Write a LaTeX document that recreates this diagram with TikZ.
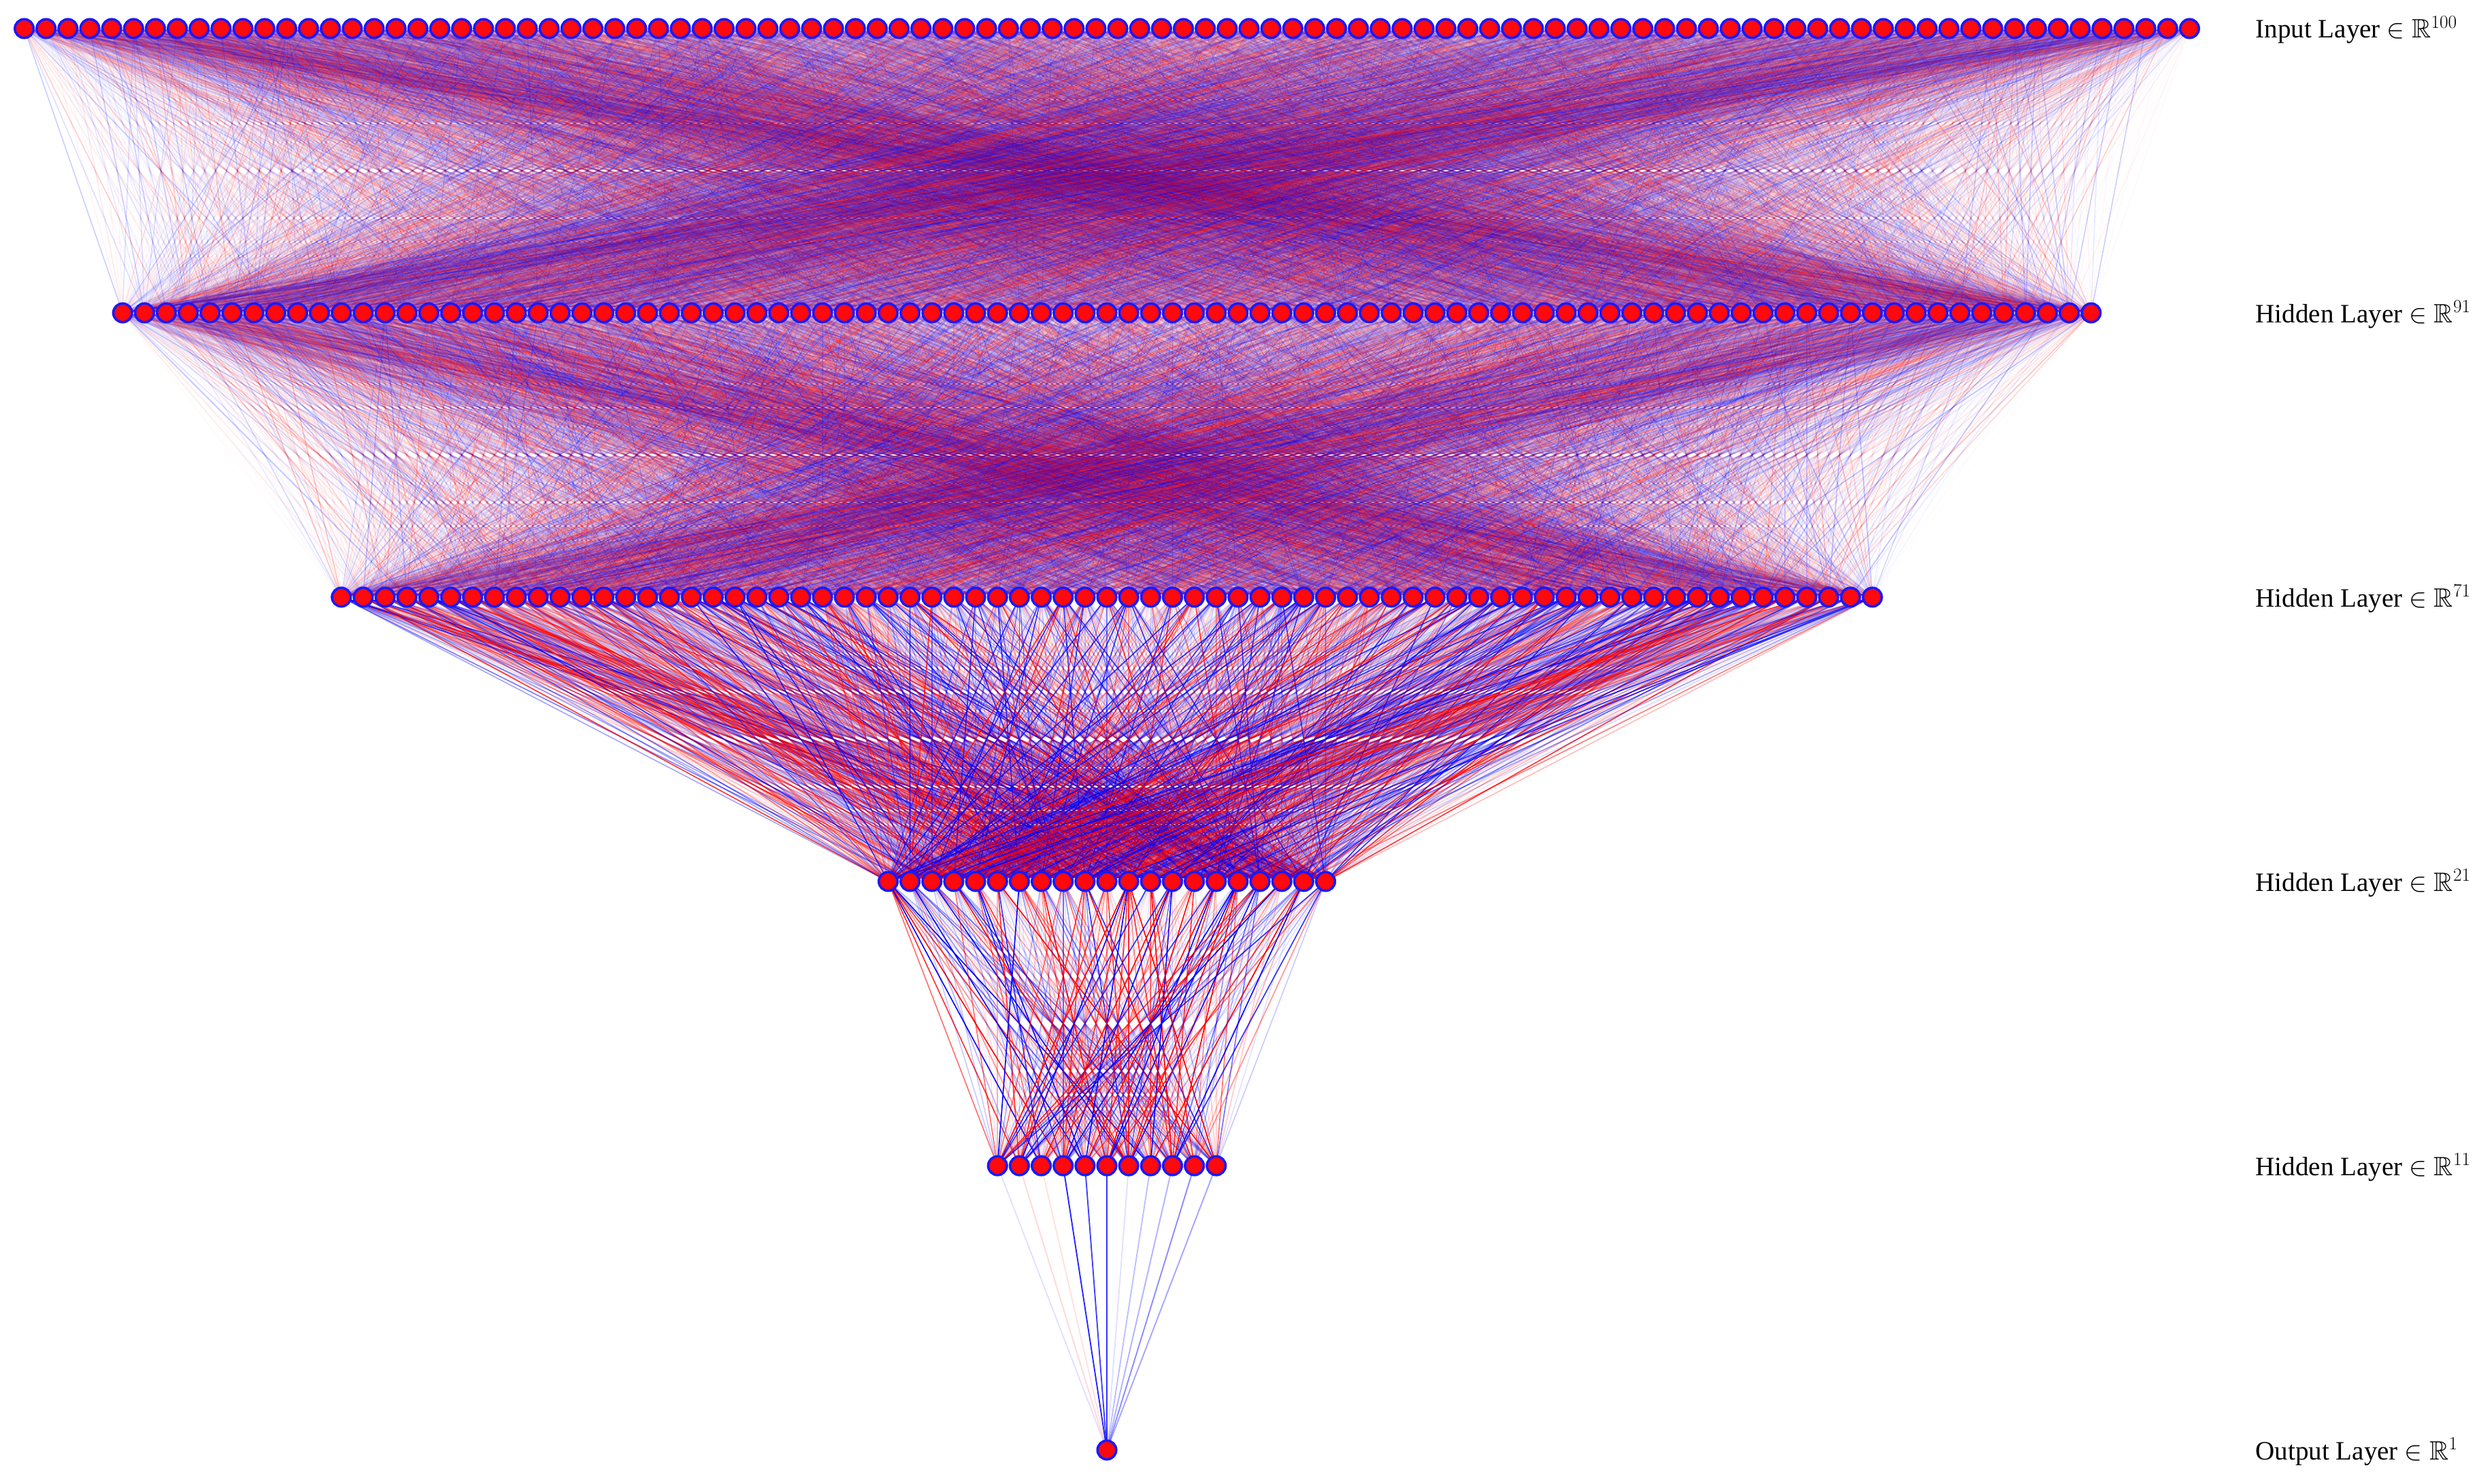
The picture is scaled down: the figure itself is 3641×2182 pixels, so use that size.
\documentclass[tikz,border=0pt]{standalone}
\usepackage{fix-cm}
\usepackage{amssymb}
\usepackage{fontspec}
\setmainfont{Liberation Serif}
\usetikzlibrary{backgrounds}
\definecolor{nred}{RGB}{255,8,14}
\definecolor{nblue}{RGB}{25,25,255}
\definecolor{ered}{RGB}{255,0,0}
\definecolor{eblue}{RGB}{0,0,255}

% ---------- pseudo-random edge weights ----------
\newcount\ejj
\newcount\lcg
\global\lcg=4242
\newif\ifanyedge
\def\nextrand{\global\lcg=\numexpr\lcg*171\relax
  \global\lcg=\numexpr\lcg-30269*((\lcg-15134)/30269)\relax}
\expandafter\def\csname eo0\endcsname{0.02}
\expandafter\def\csname eo1\endcsname{0.04}
\expandafter\def\csname eo2\endcsname{0.07}
\expandafter\def\csname eo3\endcsname{0.10}
\expandafter\def\csname eo4\endcsname{0.14}
\expandafter\def\csname eo5\endcsname{0.19}
\expandafter\def\csname eo6\endcsname{0.27}
\expandafter\def\csname eo7\endcsname{0.42}
% per-layer strength
\expandafter\def\csname lf0\endcsname{0.47}
\expandafter\def\csname lf1\endcsname{0.58}
\expandafter\def\csname lf2\endcsname{1.9}
\expandafter\def\csname lf3\endcsname{3.0}
% #1 layer, #2 style 0..15
\def\setedgestyle#1#2{%
  \ifnum#2<8
    \pgfsetstrokecolor{ered}%
    \pgfmathsetmacro\eop{min(1,\csname eo#2\endcsname*\csname lf#1\endcsname)}%
  \else
    \pgfsetstrokecolor{eblue}%
    \pgfmathsetmacro\eop{min(1,\csname eo\the\numexpr#2-8\relax\endcsname*\csname lf#1\endcsname)}%
  \fi
  \pgfsetstrokeopacity{\eop}}
% #1 layer, #2 next layer, #3 source index, #4 number of targets
\def\edgesfrom#1#2#3#4{%
  \ejj=0
  \loop\ifnum\ejj<#4\relax
    \advance\ejj by 1\relax
    \nextrand
    \expandafter\edef\csname est\the\ejj\endcsname{\the\numexpr(32*\lcg-30268)/60538\relax}%
  \repeat
  \foreach \s in {0,...,15}{%
    \begin{pgfscope}%
    \anyedgefalse
    \ejj=0
    \loop\ifnum\ejj<#4\relax
      \advance\ejj by 1\relax
      \ifnum\csname est\the\ejj\endcsname=\s\relax
        \pgfpathmoveto{\pgfpointanchor{n#1-#3}{center}}%
        \pgfpathlineto{\pgfpointanchor{n#2-\the\ejj}{center}}%
        \anyedgetrue
      \fi
    \repeat
    \ifanyedge\setedgestyle{#1}{\s}\pgfusepath{stroke}\fi
    \end{pgfscope}%
  }%
}

\tikzset{
  neuron/.style={circle, fill=nred, draw=nblue, line width=3.6bp,
    minimum size=27.5bp, inner sep=0pt},
  lbl/.style={anchor=base west, inner sep=0pt,
    font=\fontsize{39bp}{44bp}\selectfont},
  outedge/.style={line width=1.9bp},
}

\begin{document}
\begin{tikzpicture}[x=1bp,y=-1bp]
\useasboundingbox (0,0) rectangle (3641,2182);

% neurons
\foreach \L/\n in {0/100,1/91,2/71,3/21,4/11,5/1}{
  \foreach \i in {1,...,\n}{
    \node[neuron] (n\L-\i) at ({1627+(\i-(\n+1)/2)*32.15},{42+418*\L}) {};
  }
}

% connections (behind the neurons)
\begin{pgfonlayer}{background}
\pgfsetlinewidth{1.6bp}
\foreach \L/\n/\m in {0/100/91,1/91/71,2/71/21,3/21/11}{%
  \pgfmathtruncatemacro\Ln{\L+1}%
  \foreach \i in {1,...,\n}{\edgesfrom{\L}{\Ln}{\i}{\m}}%
}
% last hidden layer to output
\foreach \i/\c/\o in {1/eblue/0.12,2/ered/0.15,3/ered/0.12,4/eblue/0.85,
  5/eblue/0.75,6/eblue/0.8,7/eblue/0.12,8/eblue/0.25,9/eblue/0.3,
  10/eblue/0.45,11/eblue/0.35}{
  \draw[outedge, draw=\c, draw opacity=\o] (n4-\i.center) -- (n5-1.center);
}
\end{pgfonlayer}

% layer labels
\node[lbl] (t0) at (3315,56)   {Input Layer $\in\mathbb{R}^{100}$};
\node[lbl] (t1) at (3315,474)  {Hidden Layer $\in\mathbb{R}^{91}$};
\node[lbl] (t2) at (3315,892)  {Hidden Layer $\in\mathbb{R}^{71}$};
\node[lbl] (t3) at (3315,1310) {Hidden Layer $\in\mathbb{R}^{21}$};
\node[lbl] (t4) at (3315,1728) {Hidden Layer $\in\mathbb{R}^{11}$};
\node[lbl] (t5) at (3315,2146) {Output Layer $\in\mathbb{R}^{1}$};
\end{tikzpicture}
\end{document}
